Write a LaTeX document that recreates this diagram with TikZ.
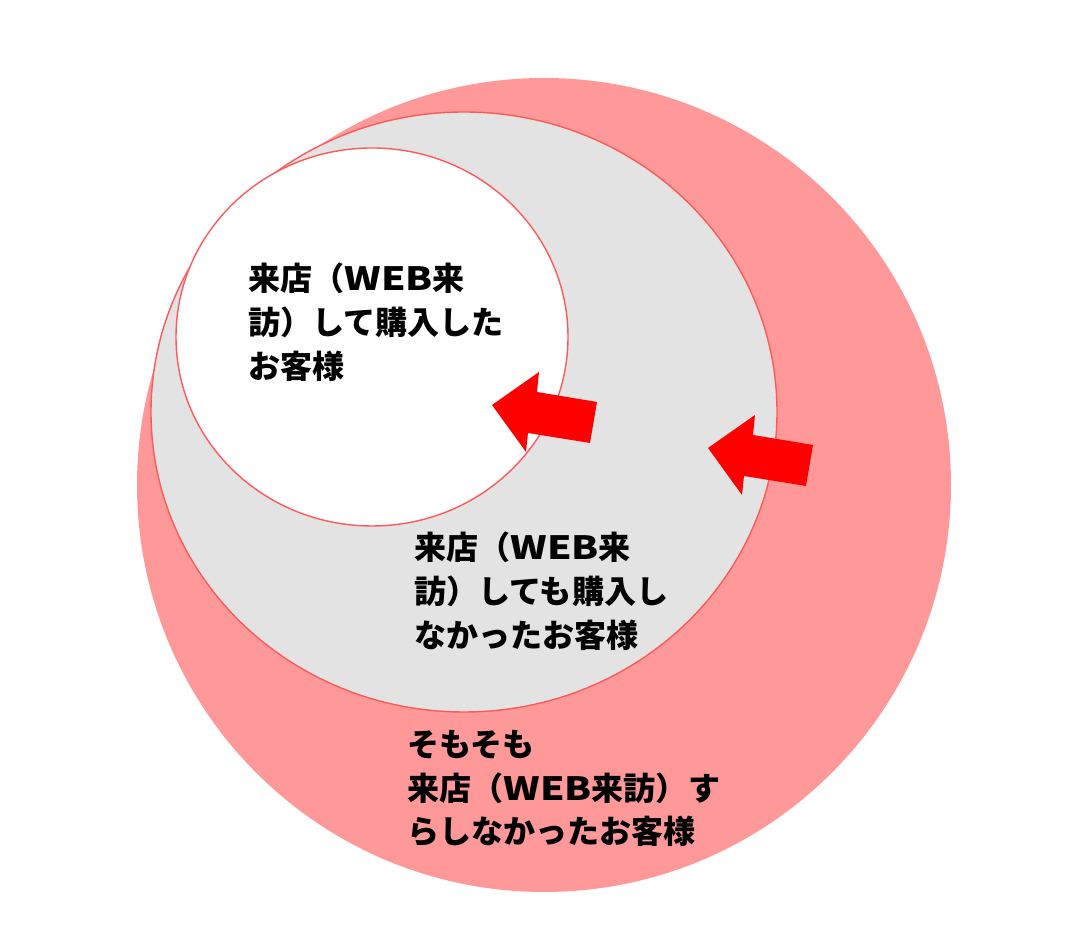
\documentclass[tikz,border=0pt]{standalone}
\usepackage{fontspec}
\newfontfamily\jpfont{Noto Sans CJK JP}
\usepackage{xcolor}
\definecolor{outerpink}{HTML}{FF9999}\definecolor{midgrey}{HTML}{E3E3E3}\definecolor{rimred}{HTML}{FF5A5A}
\newcommand{\web}{{\addfontfeature{FakeStretch=1.22}WEB}}
\tikzset{lbl/.style={anchor=north west,inner sep=0pt,align=left,font=\jpfont\bfseries\fontsize{22.8}{31}\selectfont},
  rim/.style={draw=rimred,line width=1pt}, fatarrow/.style={fill=red}}

\begin{document}
\begin{tikzpicture}[x=0.025cm,y=0.025cm]
\useasboundingbox (0,0) rectangle (1080,951);
\fill[outerpink] (544,466) circle (407);
\filldraw[rim,fill=midgrey] (464,539) ellipse (313 and 300);
\filldraw[rim,fill=white] (372,614) ellipse (196 and 189);
\foreach \tx/\ty in {492/546,708/503}{\fill[fatarrow,shift={(\tx,\ty)}] (0,0)--(47,33)--(45,13)--(105,3)--(98,-38)--(36,-28)--(34,-47)--cycle;}
\node[lbl] (bought) at (248,688){来店（\web 来\\訪）して購入した\\お客様};
\node[lbl] (visited) at (414,419){来店（\web 来\\訪）しても購入し\\なかったお客様};
\node[lbl] (never) at (407,221){そもそも\\来店（\web 来訪）す\\らしなかったお客様};
\end{tikzpicture}
\end{document}
